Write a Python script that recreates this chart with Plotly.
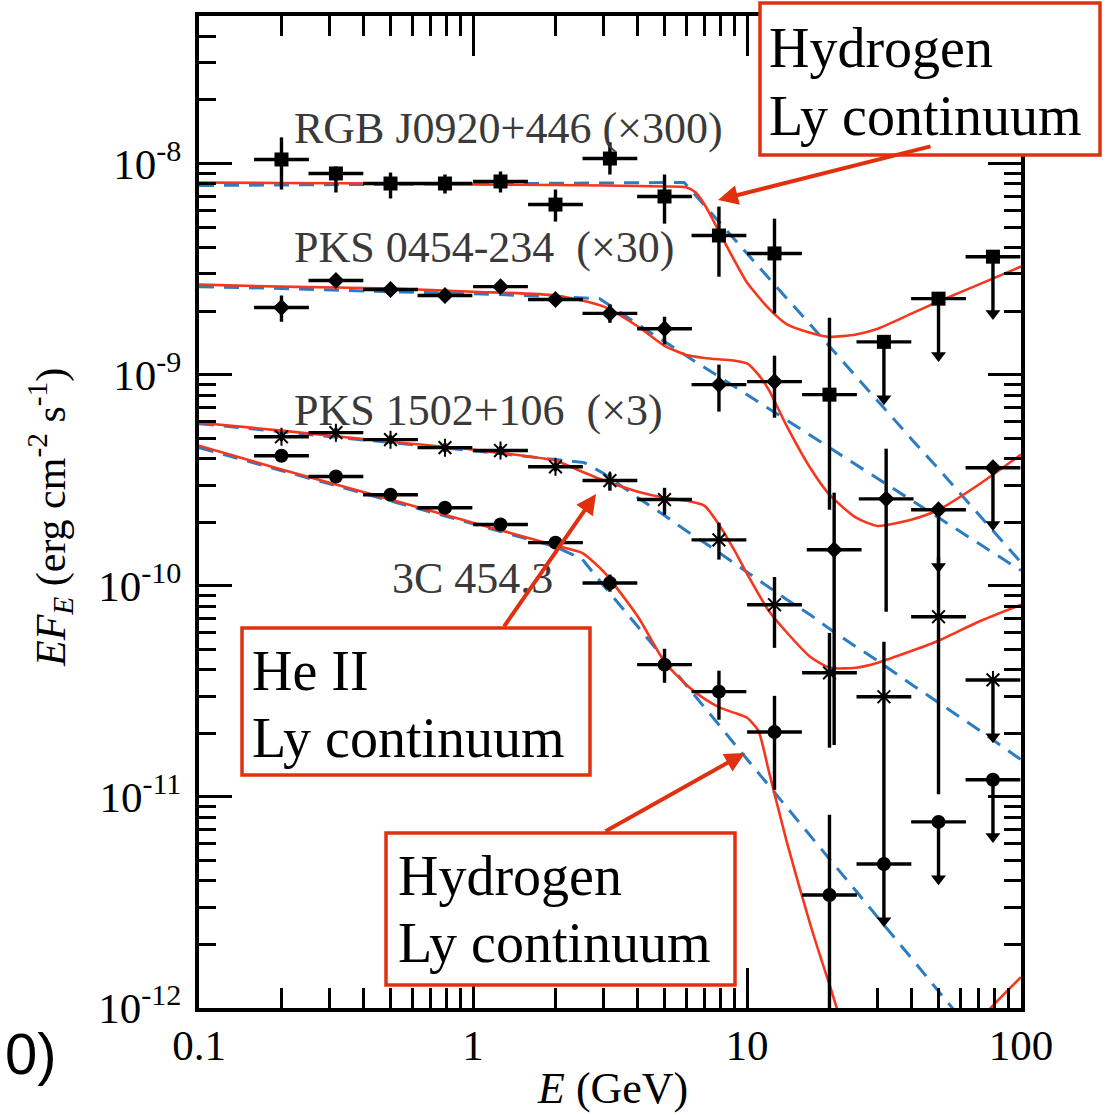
import plotly.graph_objects as go

# ---------------- Fermi-LAT spectral points (EF_E, erg cm^-2 s^-1) ----------------
E_BINS = [0.2, 0.316, 0.5, 0.79, 1.26, 2.0, 3.16, 5.0, 7.9, 12.6, 20.0, 31.6, 50.0, 79.0]
E_BINS_PKS0454 = [0.2, 0.316, 0.5, 0.79, 1.26, 2.0, 3.16, 5.0, 7.9, 12.6, 20.8, 32.2, 50.0, 79.0]
BIN_HALF_WIDTH_DEX = 0.1  # each energy bin spans +-0.1 dex

# RGB J0920+446 (x300)
RGB_F = [1.045e-8, 8.97e-9, 8.04e-9, 8.04e-9, 8.22e-9, 6.39e-9, 1.056e-8, 6.98e-9,
         4.56e-9, 3.75e-9, 8.04e-10, 1.43e-9, 2.29e-9, 3.62e-9]
RGB_HI = [1.33e-8, 9.68e-9, 9.06e-9, 8.87e-9, 9.17e-9, 7.53e-9, 1.26e-8, 8.87e-9,
          6.25e-9, 5.48e-9, 1.86e-9, None, None, None]
RGB_LO = [7.53e-9, 7.29e-9, 6.83e-9, 7.21e-9, 7.29e-9, 5.31e-9, 8.87e-9, 5.19e-9,
          2.91e-9, 1.95e-9, 2.29e-10, None, None, None]
RGB_UL = [0, 0, 0, 0, 0, 0, 0, 0, 0, 0, 0, 1, 1, 1]

# PKS 0454-234 (x30)
PKS0454_F = [2.08e-9, 2.79e-9, 2.53e-9, 2.37e-9, 2.61e-9, 2.27e-9, 1.95e-9, 1.65e-9,
             8.97e-10, 9.27e-10, 1.48e-10, 2.58e-10, 2.29e-10, 3.62e-10]
PKS0454_HI = [2.37e-9, 2.98e-9, 2.73e-9, 2.53e-9, 2.79e-9, 2.42e-9, 2.15e-9, 1.88e-9,
              1.115e-9, 1.23e-9, 2.76e-10, 4.46e-10, None, None]
PKS0454_LO = [1.78e-9, 2.61e-9, 2.37e-9, 2.22e-9, 2.45e-9, 2.12e-9, 1.76e-9, 1.39e-9,
              6.68e-10, 6.25e-10, 1.76e-11, 7.53e-11, None, None]
PKS0454_UL = [0, 0, 0, 0, 0, 0, 0, 0, 0, 0, 0, 0, 1, 1]

# PKS 1502+106 (x3)
PKS1502_F = [5.08e-10, 5.31e-10, 4.92e-10, 4.51e-10, 4.37e-10, 3.66e-10, 3.15e-10, 2.56e-10,
             1.65e-10, 8.13e-11, 3.87e-11, 2.98e-11, 7.13e-11, 3.58e-11]
PKS1502_HI = [5.33e-10, 5.57e-10, 5.16e-10, 4.73e-10, 4.58e-10, 3.84e-10, 3.43e-10, 2.91e-10,
              1.99e-10, 1.10e-10, 5.98e-11, 5.43e-11, 1.37e-10, None]
PKS1502_LO = [4.84e-10, 5.06e-10, 4.69e-10, 4.30e-10, 4.16e-10, 3.49e-10, 2.82e-10, 2.17e-10,
              1.33e-10, 5.08e-11, 1.71e-11, 4.86e-12, 1.03e-11, None]
PKS1502_UL = [0, 0, 0, 0, 0, 0, 0, 0, 0, 0, 0, 0, 0, 1]

# 3C 454.3
C3_F = [4.13e-10, 3.29e-10, 2.70e-10, 2.34e-10, 1.95e-10, 1.60e-10, 1.03e-10, 4.23e-11,
        3.15e-11, 2.03e-11, 3.43e-12, 4.81e-12, 7.61e-12, 1.205e-11]
C3_HI = [4.33e-10, 3.45e-10, 2.83e-10, 2.45e-10, 2.04e-10, 1.68e-10, 1.13e-10, 5.03e-11,
         3.96e-11, 3.01e-11, 8.22e-12, None, None, None]
C3_LO = [3.94e-10, 3.14e-10, 2.58e-10, 2.23e-10, 1.86e-10, 1.52e-10, 9.37e-11, 3.47e-11,
         2.32e-11, 1.08e-11, 1.0e-13, None, None, None]
C3_UL = [0, 0, 0, 0, 0, 0, 0, 0, 0, 0, 0, 1, 1, 1]

UL_ARROW_DEX = 0.3  # length of the upper-limit arrows

# ---------------- model curves ----------------
# absorbed (red) and broken power-law (blue dashed) models for each source
RGB_ABS_E = [0.1, 0.2, 0.5, 1, 2, 3, 4, 5, 6, 6.5, 7, 7.5, 8, 9, 10, 12, 14, 17, 20, 25, 30, 40, 50, 70, 100]
RGB_ABS_F = [8.13e-9, 8.08e-9, 8.04e-9, 7.95e-9, 7.91e-9, 7.87e-9, 7.82e-9, 7.78e-9, 7.72e-9,
             7.29e-9, 6.39e-9, 5.43e-9, 4.61e-9, 3.47e-9, 2.73e-9, 2.06e-9, 1.73e-9, 1.58e-9,
             1.51e-9, 1.55e-9, 1.65e-9, 1.95e-9, 2.22e-9, 2.67e-9, 3.25e-9]
RGB_BPL_E = [0.1, 0.2, 0.5, 1, 2, 3, 4, 5, 5.9, 7, 8, 9, 10, 12, 14, 17, 20, 25, 30, 40, 50, 70, 100]
RGB_BPL_F = [7.87e-9, 7.91e-9, 7.95e-9, 8.00e-9, 8.04e-9, 8.08e-9, 8.13e-9, 8.13e-9, 8.13e-9,
             6.32e-9, 5.19e-9, 4.36e-9, 3.75e-9, 2.88e-9, 2.29e-9, 1.73e-9, 1.36e-9, 9.78e-10,
             7.53e-10, 4.92e-10, 3.58e-10, 2.19e-10, 1.29e-10]

PKS0454_ABS_E = [0.1, 0.2, 0.5, 1, 2, 3, 4, 5, 6, 7, 8, 9, 10, 11, 12, 14, 17, 20, 25, 30, 40, 50, 70, 100]
PKS0454_ABS_F = [2.67e-9, 2.61e-9, 2.56e-9, 2.47e-9, 2.37e-9, 2.10e-9, 1.69e-9, 1.37e-9, 1.24e-9,
                 1.20e-9, 1.18e-9, 1.165e-9, 1.13e-9, 1.00e-9, 8.49e-10, 5.67e-10, 3.62e-10,
                 2.70e-10, 2.10e-10, 1.92e-10, 2.06e-10, 2.29e-10, 3.01e-10, 4.18e-10]
PKS0454_BPL_E = [0.1, 0.2, 0.5, 1, 2, 2.9, 4, 5, 6, 7, 8, 10, 12, 14, 17, 20, 25, 30, 40, 50, 70, 100]
PKS0454_BPL_F = [2.61e-9, 2.56e-9, 2.47e-9, 2.42e-9, 2.34e-9, 2.29e-9, 1.73e-9, 1.43e-9, 1.23e-9,
                 1.08e-9, 9.68e-10, 8.04e-10, 6.90e-10, 6.05e-10, 5.14e-10, 4.51e-10, 3.75e-10,
                 3.21e-10, 2.53e-10, 2.10e-10, 1.58e-10, 1.18e-10]

PKS1502_ABS_E = [0.1, 0.2, 0.5, 1, 2, 2.5, 3, 4, 5, 6, 7, 8, 9, 10, 12, 14, 17, 20, 25, 30, 40, 50, 70, 100]
PKS1502_ABS_F = [5.92e-10, 5.43e-10, 4.81e-10, 4.41e-10, 3.91e-10, 3.47e-10, 3.15e-10, 2.79e-10,
                 2.61e-10, 2.53e-10, 2.39e-10, 1.90e-10, 1.47e-10, 1.14e-10, 7.61e-11, 5.99e-11,
                 4.61e-11, 4.09e-11, 4.09e-11, 4.32e-11, 4.92e-11, 5.49e-11, 6.75e-11, 8.13e-11]
PKS1502_BPL_E = [0.1, 0.2, 0.5, 1, 2, 2.55, 3, 4, 5, 6, 7, 8, 9, 10, 12, 14, 17, 20, 25, 30, 40, 50, 70, 100]
PKS1502_BPL_F = [5.86e-10, 5.37e-10, 4.76e-10, 4.36e-10, 3.96e-10, 3.83e-10, 3.40e-10, 2.61e-10,
                 2.15e-10, 1.82e-10, 1.60e-10, 1.42e-10, 1.27e-10, 1.165e-10, 9.89e-11, 8.58e-11,
                 7.29e-11, 6.25e-11, 5.14e-11, 4.41e-11, 3.40e-11, 2.79e-11, 2.08e-11, 1.50e-11]

C3_ABS_E = [0.1, 0.2, 0.5, 1, 2, 2.5, 3, 4, 5, 6, 7, 8, 9, 10, 11, 12, 14, 17, 20, 25, 30, 45, 60, 70, 100]
C3_ABS_F = [4.61e-10, 3.55e-10, 2.56e-10, 1.99e-10, 1.55e-10, 1.43e-10, 1.165e-10, 7.13e-11,
            4.36e-11, 3.40e-11, 2.91e-11, 2.64e-11, 2.50e-11, 2.37e-11, 2.06e-11, 1.33e-11,
            6.05e-12, 2.50e-12, 1.29e-12, 5.43e-13, 4.0e-13, 3.6e-13, 5.67e-13, 8.58e-13, 1.40e-12]
C3_BPL_E = [0.1, 0.2, 0.5, 1, 2, 2.5, 3, 4, 5, 6, 7, 8, 9, 10, 12, 14, 17, 20, 25, 30, 40, 50, 70, 100]
C3_BPL_F = [4.51e-10, 3.51e-10, 2.53e-10, 1.97e-10, 1.53e-10, 1.34e-10, 1.00e-10, 6.39e-11,
            4.51e-11, 3.40e-11, 2.67e-11, 2.15e-11, 1.78e-11, 1.51e-11, 1.14e-11, 8.97e-12,
            6.60e-12, 5.08e-12, 3.58e-12, 2.70e-12, 1.71e-12, 1.20e-12, 7.13e-13, 4.04e-13]

SOURCE_LABELS = ["RGB J0920+446 (\u00d7300)", "PKS 0454-234  (\u00d730)",
                 "PKS 1502+106  (\u00d73)", "3C 454.3"]

Y_TICKS = [1e-12, 1e-11, 1e-10, 1e-9, 1e-8]
Y_TICK_TEXT = ["10<sup>-12</sup>", "10<sup>-11</sup>", "10<sup>-10</sup>",
               "10<sup>-9</sup>", "10<sup>-8</sup>"]
X_TICKS = [0.1, 1, 10, 100]
X_TICK_TEXT = ["0.1", "1", "10", "100"]

# ---------------- styling ----------------
SERIF = "Liberation Serif"
RED = "#f7361e"
BOX_RED = "#e0300f"
BLUE = "#2b7cc2"
LABEL_GREY = "#3a3a3a"

W, H = 1106, 1115
M_L, M_R, M_T, M_B = 199, 85, 16, 107
PLOT_W = W - M_L - M_R
PLOT_H = H - M_T - M_B


def px(x):
    """figure pixel column -> paper x"""
    return (x - M_L) / PLOT_W


def py(y):
    """figure pixel row -> paper y"""
    return (H - M_B - y) / PLOT_H


fig = go.Figure()

curves = [(RGB_BPL_E, RGB_BPL_F, RGB_ABS_E, RGB_ABS_F),
          (PKS0454_BPL_E, PKS0454_BPL_F, PKS0454_ABS_E, PKS0454_ABS_F),
          (PKS1502_BPL_E, PKS1502_BPL_F, PKS1502_ABS_E, PKS1502_ABS_F),
          (C3_BPL_E, C3_BPL_F, C3_ABS_E, C3_ABS_F)]
for be, bf, ae, af in curves:
    fig.add_trace(go.Scatter(x=be, y=bf, mode="lines",
                             line=dict(color=BLUE, width=3, dash="15px,10px"),
                             hoverinfo="skip"))
for be, bf, ae, af in curves:
    fig.add_trace(go.Scatter(x=ae, y=af, mode="lines",
                             line=dict(color=RED, width=2.6, shape="spline", smoothing=0.6),
                             hoverinfo="skip"))

sources = [
    (E_BINS, RGB_F, RGB_HI, RGB_LO, RGB_UL, dict(symbol="square", size=14, color="black")),
    (E_BINS_PKS0454, PKS0454_F, PKS0454_HI, PKS0454_LO, PKS0454_UL,
     dict(symbol="diamond", size=13, color="black")),
    (E_BINS, PKS1502_F, PKS1502_HI, PKS1502_LO, PKS1502_UL,
     dict(symbol="asterisk-open", size=15, color="black", line=dict(color="black", width=2))),
    (E_BINS, C3_F, C3_HI, C3_LO, C3_UL, dict(symbol="circle", size=14, color="black")),
]

head_scale = 10 ** (-UL_ARROW_DEX + 0.031)
bin_scale = 10 ** BIN_HALF_WIDTH_DEX

for e, f, hi, lo, ul, marker in sources:
    plus, minus = [], []
    for fv, h, l, u in zip(f, hi, lo, ul):
        if u:
            plus.append(0.0)
            minus.append(fv - fv * 10 ** (-UL_ARROW_DEX + 0.04))
        else:
            plus.append(h - fv)
            minus.append(fv - l)
    fig.add_trace(go.Scatter(
        x=e, y=f, mode="markers", marker=marker,
        error_x=dict(type="data", symmetric=False,
                     array=[v * bin_scale - v for v in e],
                     arrayminus=[v - v / bin_scale for v in e],
                     color="black", thickness=3.4, width=0),
        error_y=dict(type="data", symmetric=False, array=plus, arrayminus=minus,
                     color="black", thickness=3.4, width=0),
        hoverinfo="skip"))
    # arrowheads of the upper limits
    ux = [ev for ev, u in zip(e, ul) if u]
    uy = [fv * head_scale for fv, u in zip(f, ul) if u]
    fig.add_trace(go.Scatter(x=ux, y=uy, mode="markers",
                             marker=dict(symbol="triangle-down", size=13, color="black"),
                             hoverinfo="skip"))

annotations = []

# source labels
label_pos = [(292, 128), (292, 247), (292, 410), (390, 578)]
for text, (lx, ly) in zip(SOURCE_LABELS, label_pos):
    annotations.append(dict(text=text, x=px(lx), y=py(ly), xref="paper", yref="paper",
                            xanchor="left", yanchor="middle", showarrow=False,
                            font=dict(family=SERIF, size=44, color=LABEL_GREY)))

# boxed annotations for the absorption edges
boxes = [
    ((760, 3, 1100, 155), ["Hydrogen", "Ly continuum"], (767, [48, 116])),
    ((242, 628, 590, 775), ["He II", "Ly continuum"], (250, [671, 738])),
    ((386, 833, 735, 985), ["Hydrogen", "Ly continuum"], (396, [876, 943])),
]
shapes = []
for (x0, y0, x1, y1), lines, (tx, tys) in boxes:
    shapes.append(dict(type="rect", xref="paper", yref="paper",
                       x0=px(x0), x1=px(x1), y0=py(y1), y1=py(y0),
                       line=dict(color=BOX_RED, width=3.5), fillcolor="white", layer="above"))
    for line_text, ty in zip(lines, tys):
        annotations.append(dict(text=line_text, x=px(tx), y=py(ty), xref="paper", yref="paper",
                                xanchor="left", yanchor="middle", showarrow=False,
                                font=dict(family=SERIF, size=56, color="black")))

# arrows from the boxes to the spectral breaks (tail -> tip)
arrows = [((932, 146), (718, 200)), ((503, 628), (596, 494)), ((604, 832), (745, 753))]
for (tx, ty), (hx, hy) in arrows:
    annotations.append(dict(text="", x=px(hx), y=py(hy), xref="paper", yref="paper",
                            ax=tx - hx, ay=ty - hy, showarrow=True, arrowhead=2,
                            arrowsize=1.0, arrowwidth=4, arrowcolor=BOX_RED, standoff=0))

# axis titles
annotations.append(dict(text="<i>E</i> (GeV)", x=px(612), y=py(H), xref="paper", yref="paper",
                        xanchor="center", yanchor="bottom", showarrow=False,
                        font=dict(family=SERIF, size=44, color="black")))
annotations.append(dict(text="<i>EF<sub>E</sub></i> (erg cm<sup>-2</sup> s<sup>-1</sup>)",
                        x=px(50), y=py(518), xref="paper", yref="paper", textangle=-90,
                        xanchor="center", yanchor="middle", showarrow=False,
                        font=dict(family=SERIF, size=42, color="black")))
annotations.append(dict(text="0)", x=px(31), y=py(1053), xref="paper", yref="paper",
                        xanchor="center", yanchor="middle", showarrow=False,
                        font=dict(family="Liberation Sans", size=58, color="black")))

axis_common = dict(type="log", showgrid=False, zeroline=False, showline=True,
                   linecolor="black", linewidth=4, mirror="ticks", ticks="inside",
                   tickcolor="black", tickwidth=3,
                   tickfont=dict(family=SERIF, size=43, color="black"))

fig.update_layout(
    width=W, height=H,
    margin=dict(l=M_L, r=M_R, t=M_T, b=M_B),
    paper_bgcolor="white", plot_bgcolor="white",
    showlegend=False,
    xaxis=dict(axis_common, range=[-1, 2], tickmode="array", tickvals=X_TICKS,
               ticktext=X_TICK_TEXT, ticklen=40, ticklabelstandoff=-4,
               minor=dict(ticks="inside", ticklen=20, tickwidth=3, tickcolor="black",
                          dtick="D1", showgrid=False)),
    yaxis=dict(axis_common, range=[-12, -7.3013], tickmode="array", tickvals=Y_TICKS,
               ticktext=Y_TICK_TEXT, ticklen=33, ticklabelstandoff=5,
               minor=dict(ticks="inside", ticklen=17, tickwidth=3, tickcolor="black",
                          dtick="D1", showgrid=False)),
    shapes=shapes,
    annotations=annotations,
)

fig.write_html("out.html")
